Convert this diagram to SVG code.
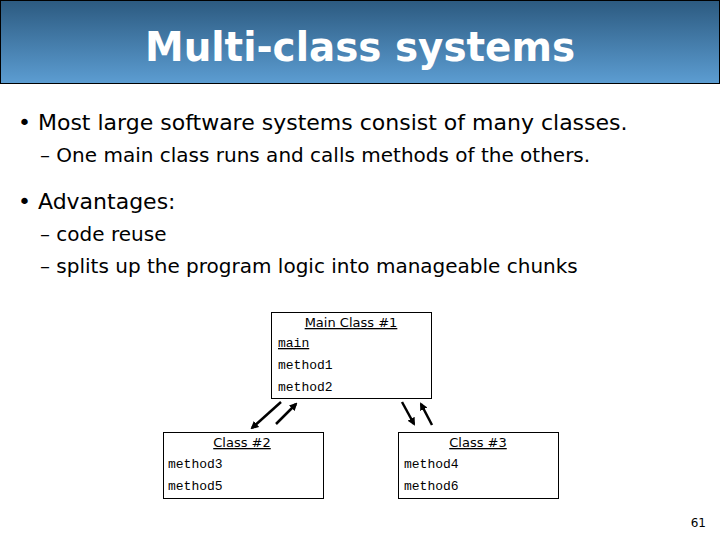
<svg xmlns="http://www.w3.org/2000/svg" width="720" height="540" viewBox="0 0 720 540">
<defs>
<linearGradient id="g" x1="0" y1="0" x2="0" y2="1"><stop offset="0" stop-color="#2c5a80"/><stop offset="1" stop-color="#5c9dd2"/></linearGradient>
<marker id="ah" markerWidth="8" markerHeight="8" refX="6" refY="4" orient="auto" markerUnits="userSpaceOnUse"><path d="M0,0 L8,4 L0,8 Z" fill="#000"/></marker>
</defs>
<style>
.b{font-family:"DejaVu Sans",Verdana,sans-serif;fill:#000}
.m{font-family:"Liberation Mono","Courier New",monospace;font-size:13px;fill:#000}
.h{font-family:"DejaVu Sans",Verdana,sans-serif;font-size:13px;fill:#000;text-decoration:underline}
.box{fill:#fff;stroke:#000;stroke-width:1}
.c{stroke:#000;stroke-width:2.5;fill:none;marker-end:url(#ah)}
</style>
<rect width="720" height="540" fill="#fff"/>
<rect x="0.5" y="0.5" width="719" height="83" fill="url(#g)" stroke="#000"/>
<text x="360" y="61" text-anchor="middle" font-family="'DejaVu Sans',sans-serif" font-weight="bold" font-size="40" fill="#fff" textLength="430" lengthAdjust="spacingAndGlyphs">Multi-class systems</text>
<text class="b" x="18" y="130" font-size="22">• Most large software systems consist of many classes.</text>
<text class="b" x="40" y="162" font-size="20">– One main class runs and calls methods of the others.</text>
<text class="b" x="18" y="209" font-size="22">• Advantages:</text>
<text class="b" x="40" y="241" font-size="20">– code reuse</text>
<text class="b" x="40" y="273" font-size="20">– splits up the program logic into manageable chunks</text>
<g id="main"><rect class="box" x="271.5" y="312.5" width="160" height="86"/>
<text class="h" x="351" y="327" text-anchor="middle">Main Class #1</text>
<text class="m" x="278" y="347" text-decoration="underline">main</text>
<text class="m" x="278" y="369">method1</text>
<text class="m" x="278" y="391">method2</text></g>
<g id="class2"><rect class="box" x="163.5" y="432.5" width="160" height="66"/>
<text class="h" x="242" y="447" text-anchor="middle">Class #2</text>
<text class="m" x="168" y="468">method3</text>
<text class="m" x="168" y="490">method5</text></g>
<g id="class3"><rect class="box" x="398.5" y="432.5" width="160" height="66"/>
<text class="h" x="478" y="447" text-anchor="middle">Class #3</text>
<text class="m" x="404" y="468">method4</text>
<text class="m" x="404" y="490">method6</text></g>
<g id="connectors">
<line class="c" x1="281" y1="402" x2="252" y2="428"/>
<line class="c" x1="276" y1="424" x2="296" y2="404"/>
<line class="c" x1="402" y1="402" x2="414" y2="424"/>
<line class="c" x1="432" y1="425" x2="421" y2="404"/>
</g>
<text x="706" y="527" text-anchor="end" font-family="'DejaVu Sans',sans-serif" font-size="12" fill="#000">61</text>
</svg>
